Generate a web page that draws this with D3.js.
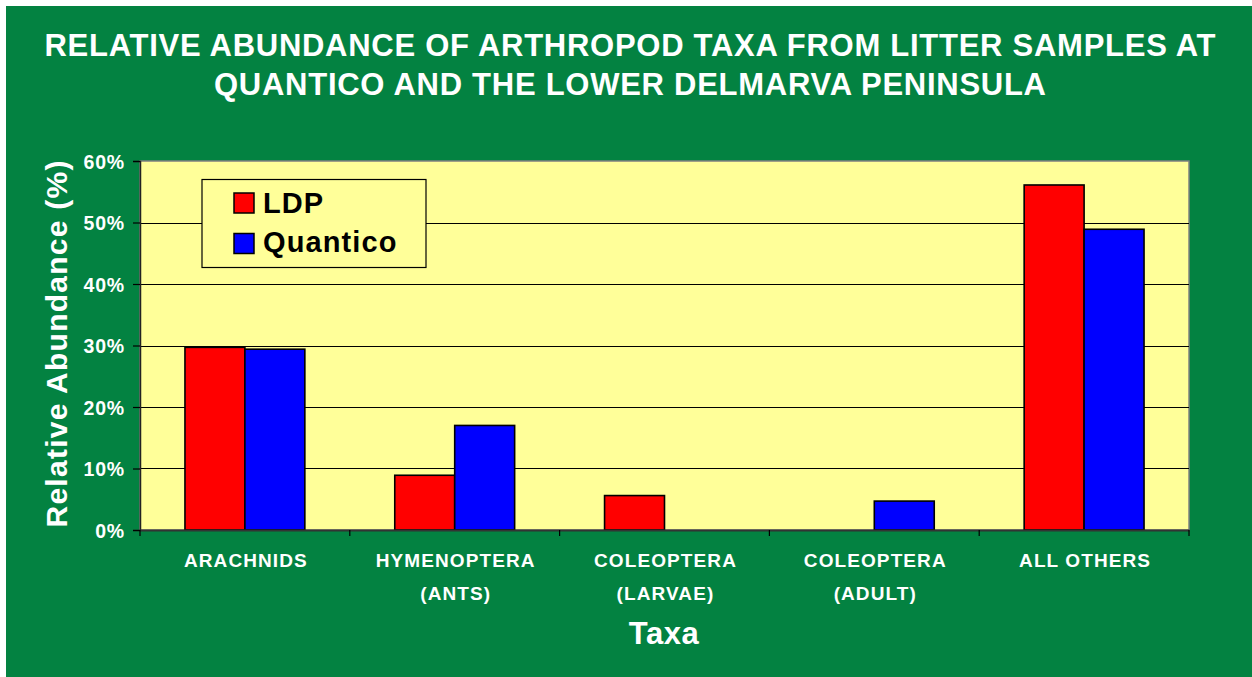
<!DOCTYPE html>
<html>
<head>
<meta charset="utf-8">
<script src="https://cdn.jsdelivr.net/npm/d3@7"></script>
<style>
  html, body { margin: 0; padding: 0; background: #ffffff; }
  svg { display: block; font-family: Arial, "Liberation Sans", sans-serif; }
</style>
</head>
<body>
<svg id="chart" width="1252" height="677"></svg>
<script>
// Taxa shown along the x axis (each may wrap onto two lines)
const categories = ["ARACHNIDS", "HYMENOPTERA (ANTS)", "COLEOPTERA (LARVAE)", "COLEOPTERA (ADULT)", "ALL OTHERS"];
const categoryLines = [["ARACHNIDS"], ["HYMENOPTERA", "(ANTS)"], ["COLEOPTERA", "(LARVAE)"], ["COLEOPTERA", "(ADULT)"], ["ALL OTHERS"]];
const seriesNames = ["LDP", "Quantico"];
const ldpValues = [0.297, 0.089, 0.056, 0.0, 0.561];
const quanticoValues = [0.294, 0.170, 0.0, 0.047, 0.489];
const yTicks = [0, 0.1, 0.2, 0.3, 0.4, 0.5, 0.6];
const titleLines = ["RELATIVE ABUNDANCE OF ARTHROPOD TAXA FROM LITTER SAMPLES AT", "QUANTICO AND THE LOWER DELMARVA PENINSULA"];

const colors = { LDP: "#ff0000", Quantico: "#0000ff" };
const green = "#038241";
const plotFill = "#ffff99";

const svg = d3.select("#chart");

// Background panel
svg.append("rect").attr("x", 6).attr("y", 6).attr("width", 1246).attr("height", 671).attr("fill", green);

// Title
const title = svg.append("g").attr("fill", "#fff").attr("font-weight", "bold").attr("font-size", 31).attr("text-anchor", "middle");
const titleWidths = [1171, 832];
titleLines.forEach((t, i) => {
  title.append("text").attr("x", 630).attr("y", 56 + i * 39)
    .attr("textLength", titleWidths[i]).attr("lengthAdjust", "spacing").text(t);
});

// Plot geometry
const plotLeft = 140, plotRight = 1189, plotTop = 161, plotBottom = 530;

const x0 = d3.scaleBand().domain(categories).range([plotLeft, plotRight]).padding(0);
const cw = x0.bandwidth();
const barW = cw / 3.5; // gap width of 150%
const x1 = d3.scaleBand().domain(seriesNames).range([(cw - 2 * barW) / 2, (cw + 2 * barW) / 2]).padding(0);
const y = d3.scaleLinear().domain([0, 0.6]).range([plotBottom, plotTop]);

// Plot area
svg.append("rect").attr("x", plotLeft).attr("y", plotTop).attr("width", plotRight - plotLeft).attr("height", plotBottom - plotTop)
  .attr("fill", plotFill).attr("stroke", "#808080").attr("stroke-width", 1.5);

// Gridlines
svg.append("g").selectAll("line").data(yTicks.filter(d => d > 0 && d < 0.6)).join("line")
  .attr("x1", plotLeft).attr("x2", plotRight)
  .attr("y1", d => Math.round(y(d)) + 0.5).attr("y2", d => Math.round(y(d)) + 0.5)
  .attr("stroke", "#000").attr("stroke-width", 1.2);

// Bars
const rows = categories.map((c, i) => ({ cat: c, LDP: ldpValues[i], Quantico: quanticoValues[i] }));
const groups = svg.append("g").selectAll("g").data(rows).join("g")
  .attr("transform", d => `translate(${x0(d.cat)},0)`);
groups.selectAll("rect").data(d => seriesNames.map(s => ({ s, v: d[s] })).filter(e => e.v > 0)).join("rect")
  .attr("x", d => x1(d.s)).attr("width", x1.bandwidth())
  .attr("y", d => y(d.v)).attr("height", d => y(0) - y(d.v))
  .attr("fill", d => colors[d.s]).attr("stroke", "#000").attr("stroke-width", 1.6);

// Y axis
const yAxis = d3.axisLeft(y).tickValues(yTicks).tickFormat(d3.format(".0%")).tickSize(7).tickPadding(8);
const yg = svg.append("g").attr("transform", `translate(${plotLeft},0)`).call(yAxis);
yg.select(".domain").attr("stroke", "#222").attr("stroke-width", 1.5);
yg.selectAll(".tick line").attr("stroke", "#000").attr("stroke-width", 1.2);
yg.selectAll(".tick text").attr("fill", "#fff").attr("font-size", 19.5).attr("font-weight", "bold")
  .attr("letter-spacing", 0.8).attr("dy", "0.36em").attr("font-family", "Arial, 'Liberation Sans', sans-serif");

// X axis
const xAxis = d3.axisBottom(x0).tickSize(0).tickFormat("");
const xg = svg.append("g").attr("transform", `translate(0,${plotBottom})`).call(xAxis);
xg.select(".domain").attr("stroke", "#333").attr("stroke-width", 2.2);
// category dividers
svg.append("g").selectAll("line").data(d3.range(categories.length + 1)).join("line")
  .attr("x1", i => plotLeft + i * cw).attr("x2", i => plotLeft + i * cw)
  .attr("y1", plotBottom).attr("y2", plotBottom + 6).attr("stroke", "#000").attr("stroke-width", 1.2);

// Category labels
const catLabels = svg.append("g").attr("fill", "#fff").attr("font-weight", "bold").attr("font-size", 19)
  .attr("text-anchor", "middle").attr("letter-spacing", 1.1);
categories.forEach((c, i) => {
  const t = catLabels.append("text").attr("x", x0(c) + cw / 2 + 1).attr("y", 567);
  categoryLines[i].forEach((ln, j) => {
    t.append("tspan").attr("x", x0(c) + cw / 2 + 1).attr("y", 567 + j * 33).text(ln);
  });
});

// Axis titles
svg.append("text").attr("x", 664).attr("y", 644).attr("text-anchor", "middle")
  .attr("fill", "#fff").attr("font-weight", "bold").attr("font-size", 31).attr("letter-spacing", 0.5)
  .text("Taxa");
svg.append("text").attr("transform", "translate(67,344) rotate(-90)").attr("text-anchor", "middle")
  .attr("fill", "#fff").attr("font-weight", "bold").attr("font-size", 30)
  .attr("textLength", 367).attr("lengthAdjust", "spacing")
  .text("Relative Abundance (%)");

// Legend
const legend = svg.append("g");
legend.append("rect").attr("x", 202).attr("y", 179.5).attr("width", 224).attr("height", 88)
  .attr("fill", plotFill).attr("stroke", "#000").attr("stroke-width", 1.2);
seriesNames.forEach((s, i) => {
  legend.append("rect").attr("x", 234).attr("y", 193 + i * 40.5).attr("width", 20).attr("height", 20)
    .attr("fill", colors[s]).attr("stroke", "#000").attr("stroke-width", 1.5);
  legend.append("text").attr("x", 263).attr("y", 212.5 + i * 39.5)
    .attr("font-weight", "bold").attr("font-size", 29).attr("letter-spacing", 1.1).attr("fill", "#000")
    .text(s);
});
</script>
</body>
</html>
